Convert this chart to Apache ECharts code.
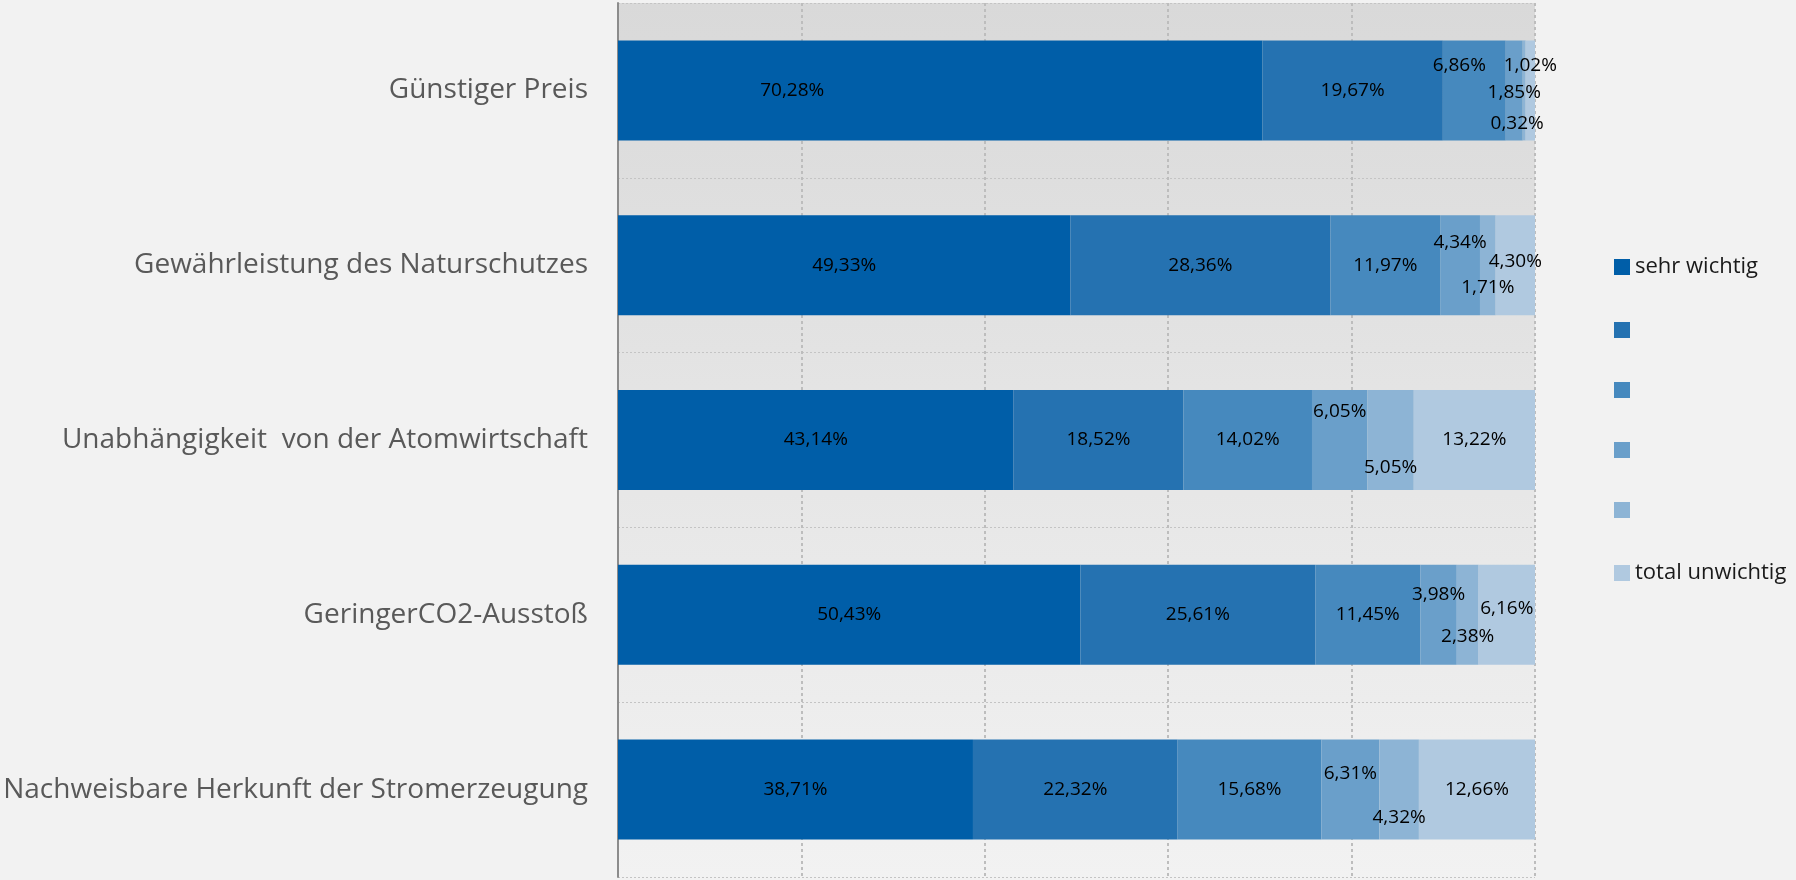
<!DOCTYPE html>
<html>
<head>
<meta charset="utf-8">
<script src="https://cdn.jsdelivr.net/npm/echarts@6/dist/echarts.min.js"></script>
<style>
  html, body { margin: 0; padding: 0; background: #f2f2f2; }
  #chart { width: 1796px; height: 880px; }
</style>
</head>
<body>
<div id="chart"></div>
<script>
// Kategorien (von oben nach unten)
var categories = [
  "Günstiger Preis",
  "Gewährleistung des Naturschutzes",
  "Unabhängigkeit  von der Atomwirtschaft",
  "GeringerCO2-Ausstoß",
  "Nachweisbare Herkunft der Stromerzeugung"
];

// Anteile je Bewertungsstufe in %
var sehrWichtig    = [70.28, 49.33, 43.14, 50.43, 38.71];
var stufe2         = [19.67, 28.36, 18.52, 25.61, 22.32];
var stufe3         = [6.86, 11.97, 14.02, 11.45, 15.68];
var stufe4         = [1.85, 4.34, 6.05, 3.98, 6.31];
var stufe5         = [0.32, 1.71, 5.05, 2.38, 4.32];
var totalUnwichtig = [1.02, 4.30, 13.22, 6.16, 12.66];

var levelNames = ["sehr wichtig", " ", "  ", "   ", "    ", "total unwichtig"];
var levelData = [sehrWichtig, stufe2, stufe3, stufe4, stufe5, totalUnwichtig];
var colors = ["#005ea8", "#2572b1", "#4689be", "#6a9fca", "#8db4d5", "#b0c9e0"];

// Verschiebung der Beschriftungen [dx, dy] (wie im Original von Hand verschoben)
var labelShift = [
  [[-148, 0], [0, 0], [0, 0], [0, 0], [0, 0]],
  [[0, 0], [0, 0], [0, 0], [0, 0], [0, 0]],
  [[-15, -25], [0, 0], [0, 0], [0, 0], [0, 0]],
  [[0, 2], [0, -23], [0, -28], [0, -20], [0, -16]],
  [[-7, 33], [0, 22], [0, 28], [0, 22], [0, 28]],
  [[0, -25], [0, -4], [0, 0], [0, -6], [0, 0]]
];

var chart = echarts.init(document.getElementById("chart"));

var series = levelNames.map(function (name, i) {
  return {
    name: name,
    type: "bar",
    stack: "total",
    barWidth: 100,
    itemStyle: { color: colors[i] },
    label: {
      show: true,
      position: "inside",
      color: "#000",
      fontFamily: "Open Sans",
      fontSize: 19,
      formatter: function (p) {
        return p.value.toFixed(2).replace(".", ",") + "%";
      }
    },
    data: levelData[i].map(function (v, j) {
      return { value: v, label: { offset: labelShift[i][j] } };
    })
  };
});

chart.setOption({
  backgroundColor: "#f2f2f2",
  animation: false,
  textStyle: { fontFamily: "Open Sans" },
  grid: {
    left: 618,
    right: 261,
    top: 3,
    bottom: 3,
    show: true,
    borderWidth: 0,
    backgroundColor: {
      type: "linear",
      x: 0, y: 0, x2: 0, y2: 1,
      colorStops: [
        { offset: 0, color: "#d9d9d9" },
        { offset: 1, color: "#f2f2f2" }
      ]
    }
  },
  legend: {
    orient: "vertical",
    left: 1609,
    top: 251,
    itemWidth: 16,
    itemHeight: 16,
    itemGap: 44,
    icon: "rect",
    data: levelNames,
    formatter: function (name) { return name.trim(); },
    textStyle: { color: "#1a1a1a", fontSize: 22, lineHeight: 16, fontFamily: "Open Sans" }
  },
  xAxis: {
    type: "value",
    min: 0,
    max: 100,
    interval: 20,
    axisLabel: { show: false },
    axisLine: { show: false },
    axisTick: { show: false },
    splitLine: {
      show: true,
      lineStyle: { color: "#bdbdbd", width: 2, type: [3, 3] }
    }
  },
  yAxis: {
    type: "category",
    inverse: true,
    data: categories,
    axisTick: { show: false },
    axisLine: { show: true, lineStyle: { color: "#8c8c8c", width: 2 } },
    axisLabel: { color: "#595959", fontSize: 28, margin: 30, fontFamily: "Open Sans" },
    splitLine: {
      show: true,
      lineStyle: { color: "#c4c4c4", width: 1, type: [2, 2] }
    }
  },
  series: series
});
</script>
</body>
</html>
